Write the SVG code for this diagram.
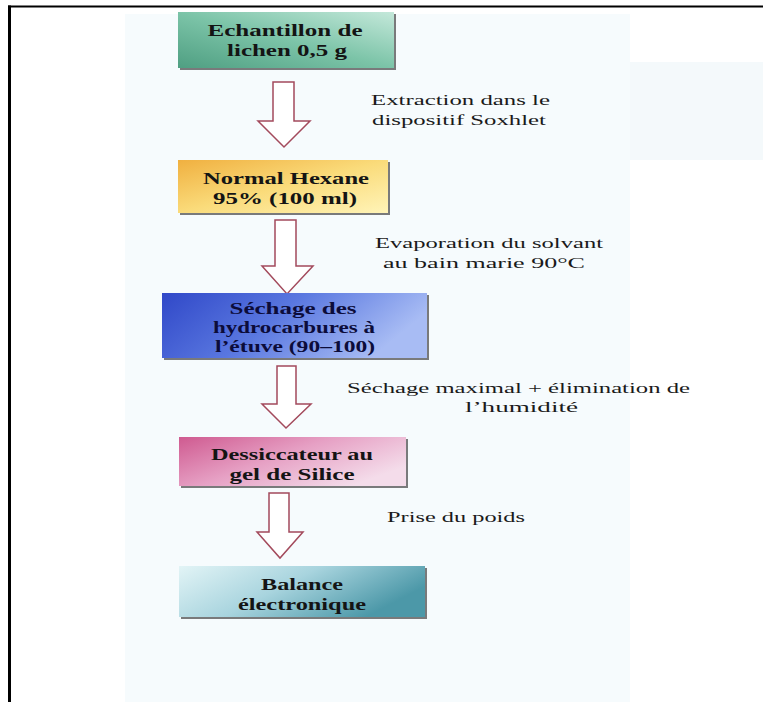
<svg xmlns="http://www.w3.org/2000/svg" width="763" height="702" viewBox="0 0 763 702">
  <defs>
    <linearGradient id="gGreen" x1="0" y1="1" x2="1" y2="0">
      <stop offset="0" stop-color="#4f9f82"/>
      <stop offset="0.5" stop-color="#7cc4a8"/>
      <stop offset="1" stop-color="#c4e8da"/>
    </linearGradient>
    <linearGradient id="gYellow" x1="0" y1="0" x2="1" y2="1">
      <stop offset="0" stop-color="#f0b040"/>
      <stop offset="0.5" stop-color="#fadb7a"/>
      <stop offset="1" stop-color="#fff4b8"/>
    </linearGradient>
    <linearGradient id="gBlue" x1="0" y1="0" x2="1" y2="0.3">
      <stop offset="0" stop-color="#3048c8"/>
      <stop offset="0.5" stop-color="#5a78e0"/>
      <stop offset="1" stop-color="#a8bcf4"/>
    </linearGradient>
    <linearGradient id="gPink" x1="0" y1="0" x2="1" y2="0.6">
      <stop offset="0" stop-color="#cf5a90"/>
      <stop offset="0.5" stop-color="#e6a0c4"/>
      <stop offset="1" stop-color="#f4dcea"/>
    </linearGradient>
    <linearGradient id="gTeal" x1="0" y1="0" x2="1" y2="0.4">
      <stop offset="0" stop-color="#e2f4f6"/>
      <stop offset="0.5" stop-color="#a8d4de"/>
      <stop offset="1" stop-color="#4c98a8"/>
    </linearGradient>
  </defs>
  <style>
    .node text { font-family: "Liberation Serif", "Times New Roman", serif; font-weight: bold; font-size: 16px; fill: #141414; text-anchor: middle; }
    .lbl { font-family: "Liberation Serif", "Times New Roman", serif; font-size: 15px; fill: #1a1a1a; }
    .shadow { fill: #5a5a5a; opacity: 0.8; }
    .arrow { fill: #ffffff; stroke: #a34a5c; stroke-width: 1.5; stroke-linejoin: miter; }
  </style>

  <rect x="0" y="0" width="763" height="702" fill="#ffffff"/>
  <!-- faint scan background -->
  <rect x="125" y="14" width="505" height="688" fill="#f6fbfd"/>
  <rect x="630" y="62" width="133" height="98" fill="#f4f9fb"/>

  <!-- frame -->
  <line x1="8" y1="6.5" x2="763" y2="6.5" stroke="#000" stroke-width="2"/>
  <line x1="9.5" y1="5.5" x2="9.5" y2="702" stroke="#000" stroke-width="3"/>

  <g id="connectors">
    <path class="arrow" d="M273,82 H294 V121 H310 L284,147 L258,121 H273 Z"/>
    <path class="arrow" d="M275,220 H296 V266 H313 L287,294 L262,266 H275 Z"/>
    <path class="arrow" d="M277,366 H296 V404 H311 L286,428 L262,404 H277 Z"/>
    <path class="arrow" d="M269,493 H289 V532 H303 L280,558 L257,532 H269 Z"/>
    <text class="lbl" x="371" y="105" textLength="179" lengthAdjust="spacingAndGlyphs">Extraction dans le</text>
    <text class="lbl" x="372" y="125" textLength="174" lengthAdjust="spacingAndGlyphs">dispositif Soxhlet</text>
    <text class="lbl" x="375" y="248" textLength="228" lengthAdjust="spacingAndGlyphs">Evaporation du solvant</text>
    <text class="lbl" x="383" y="268" textLength="202" lengthAdjust="spacingAndGlyphs">au bain marie 90°C</text>
    <text class="lbl" x="347" y="393" textLength="343" lengthAdjust="spacingAndGlyphs">Séchage maximal + élimination de</text>
    <text class="lbl" x="465" y="412" textLength="113" lengthAdjust="spacingAndGlyphs">l’humidité</text>
    <text class="lbl" x="387" y="522" textLength="138" lengthAdjust="spacingAndGlyphs">Prise du poids</text>
  </g>

  <g id="n1" class="node">
    <rect class="shadow" x="180" y="14" width="216" height="56"/>
    <rect x="178" y="12" width="216" height="56" fill="url(#gGreen)"/>
    <text x="285" y="36" textLength="155" lengthAdjust="spacingAndGlyphs">Echantillon de</text>
    <text x="287" y="56" textLength="120" lengthAdjust="spacingAndGlyphs">lichen 0,5 g</text>
  </g>

  <g id="n2" class="node">
    <rect class="shadow" x="180" y="162" width="210" height="53"/>
    <rect x="178" y="160" width="210" height="53" fill="url(#gYellow)"/>
    <text x="286" y="184" textLength="166" lengthAdjust="spacingAndGlyphs">Normal Hexane</text>
    <text x="285" y="204" textLength="144" lengthAdjust="spacingAndGlyphs">95% (100 ml)</text>
  </g>

  <g id="n3" class="node">
    <rect class="shadow" x="164" y="295" width="265" height="65"/>
    <rect x="162" y="293" width="265" height="65" fill="url(#gBlue)"/>
    <text x="293" y="314" textLength="127" lengthAdjust="spacingAndGlyphs" style="fill:#0c0c3a">Séchage des</text>
    <text x="294" y="333" textLength="162" lengthAdjust="spacingAndGlyphs" style="fill:#0c0c3a">hydrocarbures à</text>
    <text x="295" y="352" textLength="160" lengthAdjust="spacingAndGlyphs" style="fill:#0c0c3a">l’étuve (90–100)</text>
  </g>

  <g id="n4" class="node">
    <rect class="shadow" x="181" y="439" width="227" height="49"/>
    <rect x="179" y="437" width="227" height="49" fill="url(#gPink)"/>
    <text x="292" y="460" textLength="162" lengthAdjust="spacingAndGlyphs">Dessiccateur au</text>
    <text x="292" y="480" textLength="125" lengthAdjust="spacingAndGlyphs">gel de Silice</text>
  </g>

  <g id="n5" class="node">
    <rect class="shadow" x="181" y="568" width="246" height="51"/>
    <rect x="179" y="566" width="246" height="51" fill="url(#gTeal)"/>
    <text x="302" y="590" textLength="82" lengthAdjust="spacingAndGlyphs">Balance</text>
    <text x="302" y="610" textLength="128" lengthAdjust="spacingAndGlyphs">électronique</text>
  </g>
</svg>
